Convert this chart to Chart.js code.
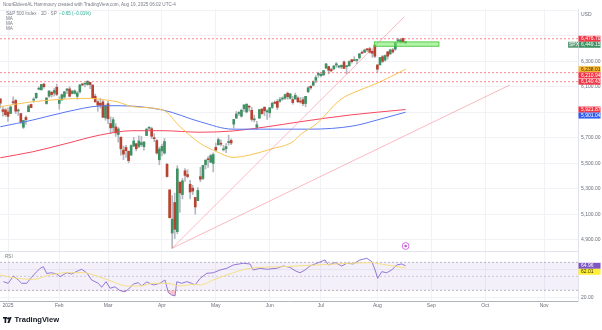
<!DOCTYPE html>
<html>
<head>
<meta charset="utf-8">
<title>S&amp;P 500 Index · 1D</title>
<script src="https://cdn.jsdelivr.net/npm/chart.js@4.4.1/dist/chart.umd.min.js"></script>
<style>
  html, body { margin: 0; padding: 0; background: #fff; }
  #wrap { position: relative; width: 602px; height: 330px; overflow: hidden; font-family: "Liberation Sans", Arial, sans-serif; }
  #spx { position: absolute; left: 0; top: 0; }
  .txt { position: absolute; white-space: nowrap; font-size: 4.6px; line-height: 6px; color: #787b86; }
  .chg { color: #22ab94; }
  .brand { position: absolute; left: 3px; top: 315px; font-size: 7.6px; font-weight: bold; color: #131722; white-space: nowrap; line-height: 9px; }
  .brand svg { vertical-align: -1px; margin-right: 1.5px; }
</style>
</head>
<body>
<div id="wrap">
  <canvas id="spx" width="602" height="330"></canvas>
  <div class="txt" style="left:3px;top:2px;">NourEldeenAL Hammoury created with TradingView.com, Aug 19, 2025 06:02 UTC-4</div>
  <div class="txt" style="left:6px;top:11px;">S&amp;P 500 Index · 1D · SP &nbsp;<span class="chg">−0.65 (−0.01%)</span></div>
  <div class="txt" style="left:6px;top:16px;">MA</div>
  <div class="txt" style="left:6px;top:21px;">MA</div>
  <div class="txt" style="left:6px;top:26px;">MA</div>
  <div class="txt" style="left:5px;top:254px;">RSI</div>
  <div class="brand"><svg width="10" height="6" viewBox="0 0 10 6"><rect x="0" y="0" width="4" height="1.6" fill="#131722"/><rect x="1.6" y="0" width="1.6" height="6" fill="#131722"/><circle cx="5.2" cy="1.4" r="1.1" fill="#131722"/><polygon points="6.6,0 8.6,0 6.4,6 4.4,6" fill="#131722"/></svg>TradingView</div>
</div>
<script>
// daily bars, index 0 = Dec 27 2024, last = Aug 18 2025
const opens = [
  6006.17, 5920.67, 5919.74,
  5903.26, 5891.07, 5982.81, 5993.26, 5910.66, 5890.66, 5782.69, 5859.75, 5905.21, 5961.61, 5995.75, 6014.12, 6081.39, 6076.32, 6121.43, 5969.04, 6026.97, 6057.70, 6050.75, 6096.79,
  5969.65, 5998.14, 6020.45, 6072.22, 6083.13, 6046.40, 6049.32, 6025.08, 6060.59, 6115.52, 6121.60, 6117.76, 6134.50, 6114.10, 6026.69, 5982.73, 5970.87, 5981.88, 5856.74,
  5968.33, 5811.98, 5781.38, 5785.87, 5726.01, 5705.37, 5603.65, 5624.84, 5594.45, 5563.85, 5635.60, 5654.53, 5632.37, 5646.92, 5630.73, 5718.08, 5775.86, 5771.66, 5695.64, 5679.00, 5527.91,
  5597.53, 5580.76, 5492.74, 5292.14, 4953.79, 5193.57, 4965.28, 5353.15, 5255.56, 5441.96, 5411.99, 5335.75, 5305.45, 5232.94, 5207.67, 5395.92, 5381.38, 5489.40, 5529.22, 5508.87, 5499.44,
  5625.14, 5645.13, 5655.32, 5605.88, 5614.35, 5663.29, 5679.52, 5807.29, 5854.09, 5891.09, 5869.79, 5929.09, 5902.88, 5944.66, 5915.94, 5841.26, 5781.89, 5854.07, 5925.54, 5939.92, 5903.67,
  5896.68, 5938.56, 5978.94, 5985.67, 5987.06, 6004.60, 6009.91, 6049.38, 6009.90, 6000.56, 6004.00, 6012.15, 5987.93, 5999.67, 5969.67, 6061.21, 6104.13, 6112.17, 6150.70, 6193.36,
  6187.25, 6193.59, 6246.47, 6259.04, 6235.00, 6240.55, 6270.78, 6255.37, 6255.22, 6295.48, 6258.43, 6264.35, 6312.35, 6304.74, 6306.60, 6326.90, 6368.60, 6370.01, 6397.69, 6398.93, 6377.98, 6427.02,
  6271.71, 6271.71, 6336.08, 6309.30, 6374.32, 6356.60, 6389.67, 6395.17, 6460.59, 6453.38, 6478.86, 6445.02
];
const highs = [
  6006.17, 5940.79, 5929.74,
  5935.09, 5949.34, 6021.04, 6000.68, 5927.89, 5890.66, 5838.07, 5871.92, 5960.61, 5964.69, 6014.96, 6051.51, 6100.81, 6118.73, 6128.18, 6017.17, 6069.09, 6062.83, 6086.64, 6120.91,
  6022.13, 6042.48, 6062.86, 6084.03, 6101.28, 6073.38, 6076.28, 6063.22, 6116.91, 6127.47, 6129.63, 6147.43, 6134.50, 6114.82, 6043.65, 5992.65, 6009.82, 5993.69, 5959.40,
  5986.09, 5865.08, 5860.59, 5812.08, 5783.01, 5705.37, 5636.30, 5642.19, 5597.78, 5645.27, 5703.52, 5654.53, 5715.33, 5711.15, 5670.84, 5775.14, 5786.95, 5783.62, 5732.28, 5685.89, 5627.56,
  5650.57, 5695.31, 5499.53, 5292.14, 5246.57, 5267.47, 5481.34, 5353.15, 5381.46, 5459.46, 5450.41, 5367.24, 5328.31, 5232.94, 5309.60, 5469.69, 5484.80, 5528.11, 5553.66, 5571.95, 5581.84,
  5658.91, 5700.70, 5683.73, 5640.98, 5654.96, 5720.10, 5691.49, 5844.69, 5906.63, 5906.55, 5924.69, 5958.62, 5968.61, 5953.06, 5938.37, 5878.08, 5829.51, 5924.33, 5929.00, 5943.13, 5922.14,
  5937.40, 5981.35, 5990.48, 5999.70, 6016.87, 6021.31, 6043.01, 6059.40, 6045.43, 6026.16, 6050.83, 6023.25, 6018.20, 6018.20, 6025.17, 6101.20, 6108.51, 6146.52, 6187.68, 6215.08,
  6210.78, 6227.60, 6284.65, 6262.33, 6246.20, 6269.11, 6290.22, 6269.03, 6272.33, 6302.04, 6266.80, 6304.15, 6315.61, 6336.08, 6316.12, 6360.64, 6381.31, 6395.82, 6401.07, 6409.26, 6389.82, 6427.02,
  6271.71, 6330.92, 6346.98, 6350.61, 6379.54, 6395.16, 6401.14, 6446.20, 6480.28, 6473.36, 6481.34, 6455.35
];
const lows = [
  5932.95, 5869.16, 5868.86,
  5829.53, 5888.66, 5960.01, 5890.68, 5874.78, 5809.88, 5773.31, 5805.41, 5905.21, 5936.33, 5978.44, 6006.88, 6076.13, 6074.67, 6088.74, 5962.92, 6017.10, 6019.96, 6027.46, 6030.93,
  5923.93, 5990.87, 6007.06, 6046.83, 6019.96, 6044.84, 6042.34, 6003.00, 6051.00, 6107.62, 6099.51, 6111.15, 6084.59, 6008.56, 5977.83, 5908.49, 5932.69, 5858.78, 5837.66,
  5810.91, 5732.59, 5742.35, 5711.64, 5666.29, 5564.02, 5528.41, 5546.09, 5504.65, 5563.85, 5631.12, 5597.76, 5622.20, 5632.33, 5603.10, 5718.08, 5764.96, 5694.41, 5670.94, 5572.42, 5488.73,
  5558.52, 5571.48, 5390.83, 5069.90, 4835.04, 4910.42, 4948.43, 5115.27, 5220.77, 5358.02, 5386.44, 5220.79, 5255.58, 5101.63, 5207.67, 5356.21, 5371.96, 5455.86, 5468.64, 5505.70, 5433.24,
  5597.35, 5644.20, 5637.51, 5597.25, 5584.02, 5643.52, 5646.15, 5776.16, 5853.63, 5874.84, 5861.69, 5907.50, 5895.69, 5909.26, 5830.91, 5825.82, 5767.41, 5854.07, 5886.81, 5873.80, 5843.66,
  5861.43, 5929.00, 5966.11, 5921.20, 5978.63, 5994.18, 6000.26, 6002.32, 6003.88, 5963.21, 6004.00, 5975.22, 5971.89, 5952.56, 5943.23, 6054.21, 6080.10, 6107.09, 6132.35, 6174.97,
  6177.97, 6188.29, 6244.68, 6201.79, 6217.17, 6233.80, 6251.94, 6247.16, 6242.41, 6241.85, 6201.95, 6263.08, 6285.27, 6303.79, 6281.71, 6317.49, 6360.57, 6368.53, 6375.70, 6363.00, 6330.89, 6327.54,
  6212.69, 6271.71, 6289.38, 6301.79, 6317.35, 6355.77, 6364.06, 6385.76, 6445.02, 6441.07, 6444.01, 6437.22
];
const closes = [
  5970.84, 5906.94, 5881.63,
  5868.55, 5942.47, 5975.38, 5909.03, 5918.25, 5827.04, 5836.22, 5842.91, 5949.91, 5937.34, 5996.66, 6049.24, 6086.37, 6118.71, 6101.24, 6012.28, 6067.70, 6039.31, 6071.17, 6040.53,
  5994.57, 6037.88, 6061.48, 6083.57, 6025.99, 6066.44, 6068.50, 6051.97, 6115.07, 6114.63, 6129.58, 6144.15, 6117.52, 6013.13, 5983.25, 5955.25, 5956.06, 5861.57, 5954.50,
  5849.72, 5778.15, 5842.63, 5738.52, 5770.20, 5614.56, 5572.07, 5599.30, 5521.52, 5638.94, 5675.12, 5614.66, 5675.29, 5662.89, 5667.56, 5767.57, 5776.65, 5712.20, 5693.31, 5580.94, 5611.85,
  5633.07, 5670.97, 5396.52, 5074.08, 5062.25, 4982.77, 5456.90, 5268.05, 5363.36, 5405.97, 5396.63, 5275.70, 5282.70, 5158.20, 5287.76, 5375.86, 5484.77, 5525.21, 5528.75, 5560.83, 5569.06,
  5604.14, 5686.67, 5650.38, 5606.91, 5631.28, 5663.94, 5659.91, 5844.19, 5886.55, 5892.58, 5916.93, 5958.38, 5963.60, 5940.46, 5844.61, 5842.01, 5802.82, 5921.54, 5888.55, 5912.17, 5911.69,
  5935.94, 5970.37, 5970.81, 5939.30, 6000.36, 6005.88, 6038.81, 6022.24, 6045.26, 5976.97, 6033.11, 5982.72, 5980.87, 5967.84, 6025.17, 6092.18, 6092.16, 6141.02, 6173.07, 6204.95,
  6198.01, 6227.42, 6279.35, 6229.98, 6225.52, 6263.26, 6280.46, 6259.75, 6268.56, 6243.76, 6263.70, 6297.36, 6296.79, 6305.60, 6309.62, 6358.91, 6363.35, 6388.64, 6389.77, 6370.86, 6362.90, 6339.39,
  6238.01, 6329.94, 6299.19, 6345.06, 6340.00, 6389.45, 6373.45, 6445.76, 6466.58, 6468.54, 6449.80, 6449.15
];

// month labels and the bar each month opens on (future months continue the daily count)
const monthLabels = ['2025', 'Feb', 'Mar', 'Apr', 'May', 'Jun', 'Jul', 'Aug', 'Sep', 'Oct', 'Nov'];
const monthBars = [3, 23, 42, 63, 84, 105, 125, 147, 168, 189, 212];

// moving averages as [bar, value]
const ma50 = [[0, 5944], [12.7, 5983], [35, 6010], [38.9, 6002], [45.5, 5983], [51.7, 5944], [63.4, 5918], [70.1, 5787],
  [77.9, 5657], [84.4, 5591], [90.7, 5547], [97.4, 5566], [105.1, 5610], [114.1, 5670], [116.8, 5722], [123.5, 5814],
  [132.4, 5997], [140.2, 6075], [146.9, 6128], [158, 6238.01]];
const ma100 = [[0, 5787], [12.7, 5840], [26, 5905], [38.9, 5950], [45.5, 5952], [63.4, 5918], [77.9, 5826], [90.7, 5768],
  [104, 5768], [120.7, 5768], [137.5, 5793], [146.9, 5840], [158, 5901.04]];
const ma200 = [[0, 5544], [12.7, 5591], [26, 5657], [38.9, 5722], [51.7, 5756], [63.4, 5756], [77.9, 5744], [90.7, 5754],
  [104, 5787], [116.8, 5826], [136.3, 5879], [158, 5921.87]];

// RSI 14 and its smoothing line, [bar, value]
const rsi = [[1.2, 42.3], [3.1, 40], [5.1, 50.4], [7, 44.7], [8.3, 40], [10.3, 40], [12.2, 48.6], [14.2, 56.6], [15.5, 61.4],
  [16.8, 63.7], [18.1, 54], [20, 55], [22, 53.3], [23.3, 49.4], [25.9, 55], [27.8, 53.3], [30.4, 58], [31.7, 60], [33.7, 55],
  [35.6, 44.7], [38.2, 40], [39.5, 34.3], [41.2, 42.3], [42.8, 32.9], [44.7, 35], [46.7, 29.4], [48.6, 28], [49.9, 31.4],
  [51.9, 39], [53.8, 40.9], [55.1, 36.1], [57.1, 41.9], [59.7, 37.6], [62.3, 40], [64.2, 44.7], [65.5, 26.6], [66.8, 23.3],
  [68.1, 21.9], [68.8, 42.3], [70.7, 40], [72.7, 42.3], [74.6, 40], [75.9, 37.6], [77.9, 47], [80.5, 54.3], [83, 55],
  [85.7, 59], [88.3, 61.4], [90.8, 66.1], [94.7, 68.6], [97.3, 67.6], [98.6, 59], [101.3, 61.4], [103.9, 60], [107.8, 61.4],
  [110.3, 64.7], [112.9, 62.8], [114.9, 58], [116.8, 55], [118.8, 59], [120.7, 64.7], [123.4, 68.6], [126.6, 73.3],
  [127.9, 66.1], [130.5, 69.4], [133.1, 64.7], [135.1, 68.6], [137.6, 67.6], [140.2, 73.3], [142.9, 75.7], [144.8, 70.9],
  [146.1, 59], [147.1, 47.1], [148.7, 56.6], [150.6, 55], [152.6, 59], [154.5, 66.1], [156.5, 67.6], [158, 64.96]];
const rsiMa = [[0, 51.9], [6.4, 47.1], [12.9, 45.7], [19.4, 51.9], [25.9, 55.1], [32.4, 55.1], [37.6, 50.4], [42.8, 43.7],
  [49.3, 36.1], [54.5, 36.1], [59.7, 40], [64.9, 40], [70.1, 36.1], [75.2, 38.5], [77.9, 37.6], [83, 44.7], [88.3, 51.9],
  [97.4, 61.4], [110.3, 63.7], [123.4, 66.1], [136.3, 68.6], [144.1, 69.4], [150.6, 66.1], [158, 62.01]];
const rsiLevels = [70, 50, 30];

// drawings: dashed price levels, trend lines off the April low, the resistance zone
const levels = [6476.70, 6210.94, 6140.43];
const trendLines = [[[67, 4835.04], [157.5, 6650]], [[67, 4835.04], [198.7, 6115]]];
const zone = { from: 145.8, to: 171, low: 6418, high: 6452 };
const alertAt = { bar: 158, price: 4852 };

// price axis ticks
const priceTicks = [4900, 5000, 5100, 5200, 5300, 5400, 5500, 5600, 5700, 5800, 5900, 6000, 6100, 6200, 6300, 6400, 6500, 6600, 6700];
const hiddenPriceLabels = [5900, 6200, 6500, 6700];
const rsiTicks = [20, 40, 60, 80];
const hiddenRsiLabels = [60];

const xMin = -0.12, xMax = 225.2;
const pMin = 4813, pMax = 6710;
const rMin = 14.7, rMax = 86.1;

const FONT = '"Liberation Sans", Arial, sans-serif';
const upColor = '#3e9163', downColor = '#b8422f', wickColor = '#b4b7bf';
const gridColor = '#f0f2f6';

const fmt = v => v.toLocaleString('en-US', { minimumFractionDigits: 2, maximumFractionDigits: 2 });
const pts = arr => arr.map(p => ({ x: p[0], y: p[1] }));
const hline = v => [{ x: xMin, y: v }, { x: xMax, y: v }];

const wicks = closes.map((c, i) => ({ x: i, y: [lows[i], highs[i]] }));
const bodies = closes.map((c, i) => ({ x: i, y: [opens[i], c] }));
const bodyColors = closes.map((c, i) => (c >= opens[i] ? upColor : downColor));

const line = (data, color, extra) => Object.assign({
  type: 'line', data: data, borderColor: color, borderWidth: 1, pointRadius: 0, fill: false, yAxisID: 'y'
}, extra || {});

// extra bits painted on the canvas: pane divider, zone, alert mark, axis tags
const overlay = {
  id: 'overlay',
  afterDatasetsDraw(chart) {
    const { ctx } = chart;
    const x = chart.scales.x, y = chart.scales.y;
    const x0 = x.getPixelForValue(zone.from), x1 = x.getPixelForValue(zone.to);
    const y0 = y.getPixelForValue(zone.high), y1 = y.getPixelForValue(zone.low);
    ctx.save();
    ctx.fillStyle = 'rgba(110,235,95,0.55)';
    ctx.fillRect(x0, y0, x1 - x0, y1 - y0);
    ctx.strokeStyle = '#3fc12f';
    ctx.lineWidth = 0.8;
    ctx.strokeRect(x0, y0, x1 - x0, y1 - y0);

    // alert icon
    const ax = x.getPixelForValue(alertAt.bar), ay = y.getPixelForValue(alertAt.price);
    ctx.beginPath();
    ctx.arc(ax, ay, 3.4, 0, Math.PI * 2);
    ctx.fillStyle = '#fff';
    ctx.fill();
    ctx.strokeStyle = '#c54fd6';
    ctx.lineWidth = 0.8;
    ctx.stroke();
    ctx.beginPath();
    ctx.arc(ax, ay, 1.3, 0, Math.PI * 2);
    ctx.fillStyle = '#c54fd6';
    ctx.fill();
    ctx.restore();
  },
  afterDraw(chart) {
    const { ctx, chartArea } = chart;
    const y = chart.scales.y, r = chart.scales.rsi;
    ctx.save();
    // pane divider
    ctx.strokeStyle = '#e0e3eb';
    ctx.lineWidth = 1;
    ctx.beginPath();
    ctx.moveTo(chartArea.left, Math.round(r.top) + 0.5);
    ctx.lineTo(chartArea.right, Math.round(r.top) + 0.5);
    ctx.stroke();

    ctx.font = '5px ' + FONT;
    ctx.textBaseline = 'middle';
    ctx.fillStyle = '#6a6d78';
    ctx.fillText('USD', y.left + 3, y.top + 6);

    const last = closes.length - 1;
    const priceTags = [
      { v: levels[0], bg: '#f23645', fg: '#fff' },
      { v: closes[last], bg: '#3e9163', fg: '#fff', sym: 'SPX' },
      { v: ma50[ma50.length - 1][1], bg: '#f7b733', fg: '#4a3300' },
      { v: levels[1], bg: '#f23645', fg: '#fff' },
      { v: levels[2], bg: '#f23645', fg: '#fff' },
      { v: ma200[ma200.length - 1][1], bg: '#f23645', fg: '#fff' },
      { v: ma100[ma100.length - 1][1], bg: '#2f5cf0', fg: '#fff' }
    ];
    const rsiTags = [
      { v: rsi[rsi.length - 1][1], bg: '#7e57c2', fg: '#fff' },
      { v: rsiMa[rsiMa.length - 1][1], bg: '#ffee3a', fg: '#3b3500' }
    ];
    const place = (tags, scale) => {
      tags.forEach(t => { t.py = scale.getPixelForValue(t.v); });
      tags.sort((a, b) => a.py - b.py);
      for (let i = 1; i < tags.length; i++) {
        if (tags[i].py < tags[i - 1].py + 6) tags[i].py = tags[i - 1].py + 6;
      }
      tags.forEach(t => {
        ctx.fillStyle = t.bg;
        ctx.fillRect(scale.left + 0.5, t.py - 3, 22, 6);
        ctx.fillStyle = t.fg;
        ctx.fillText(fmt(t.v), scale.left + 3, t.py + 0.3);
        if (t.sym) {
          ctx.fillStyle = '#5f9e78';
          ctx.fillRect(scale.left - 10, t.py - 3, 10, 6);
          ctx.fillStyle = '#fff';
          ctx.fillText(t.sym, scale.left - 9, t.py + 0.3);
        }
      });
    };
    place(priceTags, y);
    place(rsiTags, r);
    ctx.restore();
  }
};

const tickFont = { size: 5, family: FONT };

new Chart(document.getElementById('spx'), {
  type: 'bar',
  data: {
    datasets: [
      // drawings
      ...trendLines.map(t => line(pts(t), 'rgba(246,120,136,0.65)', { borderWidth: 0.8, order: 0 })),
      ...levels.map(v => line(hline(v), 'rgba(242,54,69,0.75)', { borderWidth: 0.8, borderDash: [2, 2], order: 0 })),
      // moving averages
      line(pts(ma50), '#f8c453', { cubicInterpolationMode: 'monotone', order: 1 }),
      line(pts(ma100), '#5776f2', { cubicInterpolationMode: 'monotone', order: 1 }),
      line(pts(ma200), '#f7475f', { cubicInterpolationMode: 'monotone', order: 1 }),
      // candles
      { type: 'bar', data: bodies, backgroundColor: bodyColors, barThickness: 2, minBarLength: 1, grouped: false, yAxisID: 'y', order: 2 },
      { type: 'bar', data: wicks, backgroundColor: wickColor, barThickness: 1, grouped: false, yAxisID: 'y', order: 3 },
      // RSI band and levels
      line(hline(rsiLevels[0]), '#aaa6ba', { yAxisID: 'rsi', borderWidth: 0.8, borderDash: [2, 2], fill: '+1', backgroundColor: 'rgba(126,87,194,0.09)', order: 8 }),
      line(hline(rsiLevels[2]), '#aaa6ba', { yAxisID: 'rsi', borderWidth: 0.8, borderDash: [2, 2], order: 8 }),
      line(hline(rsiLevels[1]), 'rgba(170,166,186,0.6)', { yAxisID: 'rsi', borderWidth: 0.8, borderDash: [2, 2], order: 8 }),
      // RSI lines
      line(pts(rsiMa), '#f6df82', { yAxisID: 'rsi', cubicInterpolationMode: 'monotone', order: 1 }),
      line(pts(rsi), '#9377d6', {
        yAxisID: 'rsi', order: 1,
        fill: { target: { value: 30 }, above: 'rgba(0,0,0,0)', below: 'rgba(242,54,69,0.3)' }
      })
    ]
  },
  options: {
    responsive: false,
    devicePixelRatio: 1,
    animation: false,
    events: [],
    layout: { padding: { top: 9, bottom: 19, left: 0, right: 0 } },
    plugins: { legend: { display: false }, tooltip: { enabled: false } },
    scales: {
      x: {
        type: 'linear', min: xMin, max: xMax, offset: false,
        grid: { color: gridColor, drawTicks: false, offset: false },
        border: { color: '#b2b5be' },
        ticks: {
          font: tickFont, color: '#6a6d78', padding: 2, autoSkip: false, maxRotation: 0,
          callback: v => monthLabels[monthBars.indexOf(v)] || ''
        },
        afterBuildTicks: s => { s.ticks = monthBars.map(v => ({ value: v })); },
        afterFit: s => { s.height = 10; }
      },
      y: {
        type: 'linear', position: 'right', stack: 'panes', stackWeight: 242, weight: 0,
        min: pMin, max: pMax,
        grid: { color: gridColor, drawTicks: false },
        border: { color: '#e0e3eb' },
        ticks: {
          font: tickFont, color: '#6a6d78', padding: 3,
          callback: v => (hiddenPriceLabels.includes(v) ? '' : fmt(v))
        },
        afterBuildTicks: s => { s.ticks = priceTicks.map(v => ({ value: v })); },
        afterFit: s => { s.width = 24; }
      },
      rsi: {
        type: 'linear', position: 'right', stack: 'panes', stackWeight: 50, weight: 1,
        min: rMin, max: rMax,
        grid: { color: gridColor, drawTicks: false },
        border: { color: '#e0e3eb' },
        ticks: {
          font: tickFont, color: '#6a6d78', padding: 3,
          callback: v => (hiddenRsiLabels.includes(v) ? '' : fmt(v))
        },
        afterBuildTicks: s => { s.ticks = rsiTicks.map(v => ({ value: v })); },
        afterFit: s => { s.width = 24; }
      }
    }
  },
  plugins: [overlay]
});
</script>
</body>
</html>
